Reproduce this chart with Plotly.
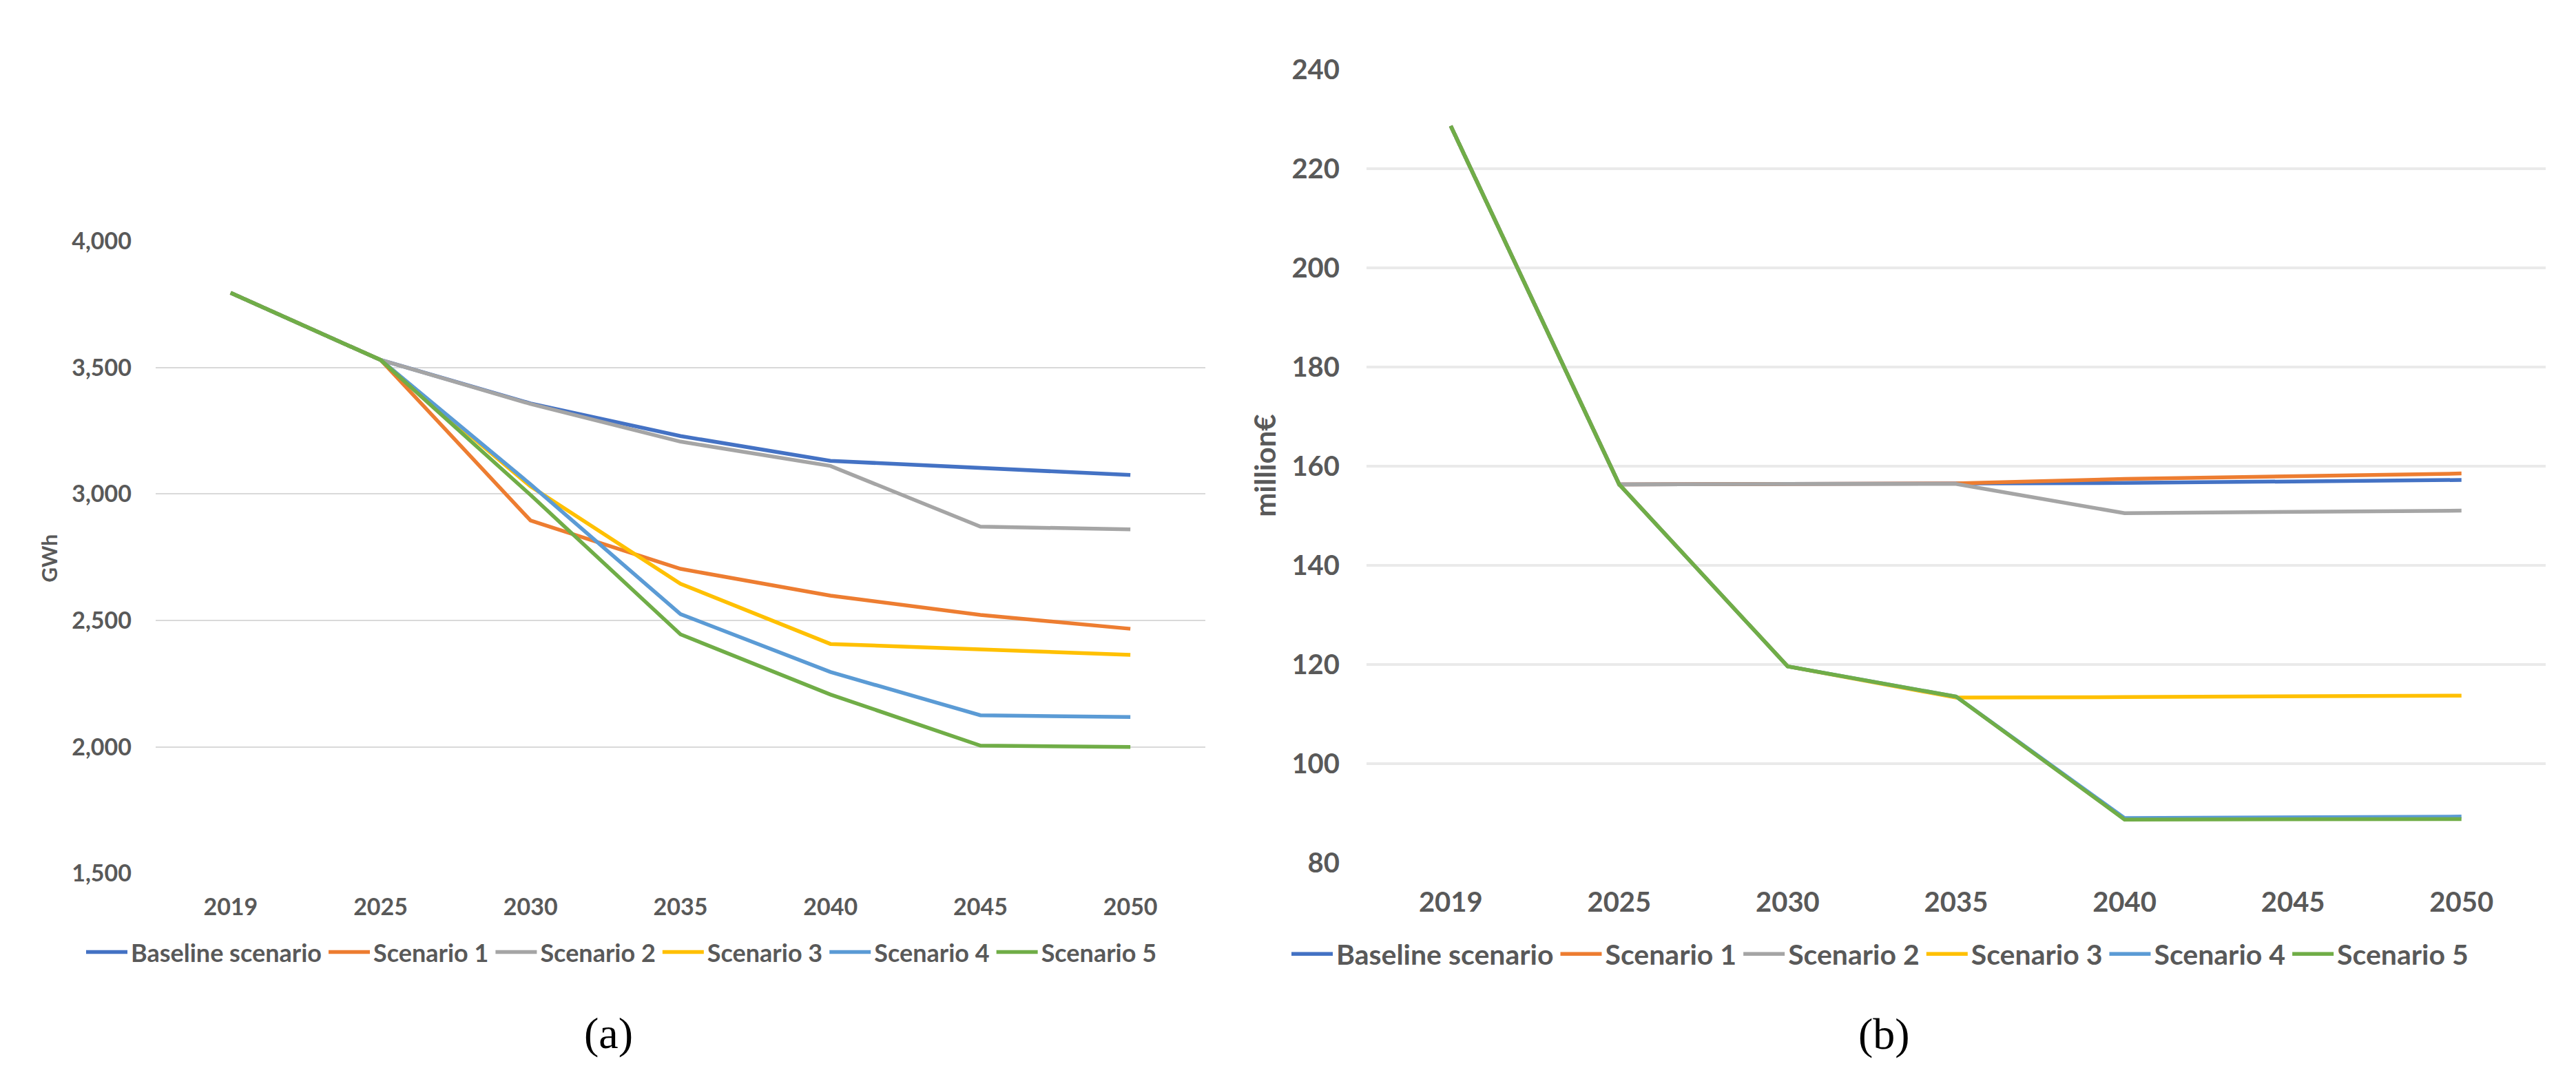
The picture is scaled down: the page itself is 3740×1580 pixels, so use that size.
import plotly.graph_objects as go

# ---------------- data ----------------
years = ["2019", "2025", "2030", "2035", "2040", "2045", "2050"]
series_names = ["Baseline scenario", "Scenario 1", "Scenario 2",
                "Scenario 3", "Scenario 4", "Scenario 5"]
series_colors = ["#4472C4", "#ED7D31", "#A5A5A5", "#FFC000", "#5B9BD5", "#70AD47"]

# (a) electricity, GWh
gwh_baseline = [3795, 3530, 3358, 3229, 3131, 3102, 3075]
gwh_s1 = [3795, 3530, 2895, 2704, 2598, 2522, 2467]
gwh_s2 = [3795, 3530, 3356, 3207, 3111, 2871, 2860]
gwh_s3 = [3795, 3530, 3030, 2645, 2407, 2387, 2364]
gwh_s4 = [3795, 3530, 3038, 2525, 2296, 2125, 2118]
gwh_s5 = [3795, 3530, 2996, 2445, 2207, 2005, 2000]

# (b) cost, million €
eur_baseline = [228.6, 156.3, 156.4, 156.5, 156.6, 156.9, 157.2]
eur_s1 = [228.6, 156.3, 156.4, 156.5, 157.4, 158.0, 158.5]
eur_s2 = [228.6, 156.3, 156.4, 156.4, 150.5, 150.8, 151.0]
eur_s3 = [228.6, 156.3, 119.6, 113.3, 113.4, 113.5, 113.7]
eur_s4 = [228.6, 156.3, 119.6, 113.5, 89.0, 89.1, 89.3]
eur_s5 = [228.6, 156.3, 119.6, 113.5, 88.7, 88.7, 88.8]

gwh_series = [gwh_baseline, gwh_s1, gwh_s2, gwh_s3, gwh_s4, gwh_s5]
eur_series = [eur_baseline, eur_s1, eur_s2, eur_s3, eur_s4, eur_s5]

# ---------------- figure ----------------
W, H = 3740, 1580
FONT = "Lato, 'Open Sans', sans-serif"
SERIF = "'Liberation Serif', 'DejaVu Serif', serif"
TXT = "#595959"

fig = go.Figure()

for name, color, vals in zip(series_names, series_colors, gwh_series):
    fig.add_trace(go.Scatter(
        x=years, y=vals, name=name, mode="lines",
        line=dict(color=color, width=5.5),
        xaxis="x", yaxis="y", legend="legend",
    ))

for name, color, vals in zip(series_names, series_colors, eur_series):
    fig.add_trace(go.Scatter(
        x=years, y=vals, name=name, mode="lines",
        line=dict(color=color, width=5.5),
        xaxis="x2", yaxis="y2", legend="legend2",
    ))

def px_x(px):
    return px / W

def px_y(py):
    return 1 - py / H

fig.update_layout(
    width=W, height=H,
    margin=dict(l=0, r=0, t=0, b=0),
    paper_bgcolor="white", plot_bgcolor="white",
    font=dict(family=FONT, color=TXT),
    xaxis=dict(
        domain=[px_x(218), px_x(1742)], anchor="y",
        type="category", range=[-0.5, 6.5],
        showgrid=False, zeroline=False, showline=False, ticks="",
        tickfont=dict(size=34, color=TXT, family=FONT, weight="bold"),
        ticklabelstandoff=26,
    ),
    yaxis=dict(
        domain=[px_y(1274), px_y(327)], anchor="x",
        range=[1500, 4000], dtick=500, tickformat=",d",
        showgrid=True, gridcolor="#D9D9D9", gridwidth=2,
        zeroline=False, showline=False, ticks="",
        tickfont=dict(size=34, color=TXT, family=FONT, weight="bold"),
        ticklabelstandoff=34,
    ),
    xaxis2=dict(
        domain=[px_x(1976), px_x(3688)], anchor="y2",
        type="category", range=[-0.5, 6.5],
        showgrid=False, zeroline=False, showline=False, ticks="",
        tickfont=dict(size=40, color=TXT, family=FONT, weight="bold"),
        ticklabelstandoff=30,
    ),
    yaxis2=dict(
        domain=[px_y(1258), px_y(70)], anchor="x2",
        range=[80, 240], dtick=20, tickformat="d",
        showgrid=True, gridcolor="#EAEAEA", gridwidth=4,
        zeroline=False, showline=False, ticks="",
        tickfont=dict(size=40, color=TXT, family=FONT, weight="bold"),
        ticklabelstandoff=38,
    ),
    legend=dict(
        orientation="h", x=px_x(112), y=px_y(1392),
        xanchor="left", yanchor="middle",
        font=dict(size=36, color=TXT, family=FONT, weight="bold"),
        itemwidth=60, bgcolor="rgba(0,0,0,0)", borderwidth=0,
    ),
    legend2=dict(
        orientation="h", x=px_x(1862), y=px_y(1395),
        xanchor="left", yanchor="middle",
        font=dict(size=41, color=TXT, family=FONT, weight="bold"),
        itemwidth=60, bgcolor="rgba(0,0,0,0)", borderwidth=0,
    ),
    showlegend=True,
    annotations=[
        dict(text="GWh", x=px_x(63), y=px_y(802), xref="paper", yref="paper",
             showarrow=False, textangle=-90, xanchor="center", yanchor="middle",
             font=dict(size=30, color=TXT, family=FONT, weight="bold")),
        dict(text="million€", x=px_x(1828), y=px_y(663), xref="paper", yref="paper",
             showarrow=False, textangle=-90, xanchor="center", yanchor="middle",
             font=dict(size=42, color=TXT, family=FONT, weight="bold")),
        dict(text="(a)", x=px_x(875), y=px_y(1513), xref="paper", yref="paper",
             showarrow=False, xanchor="center", yanchor="middle",
             font=dict(size=64, color="black", family=SERIF)),
        dict(text="(b)", x=px_x(2727), y=px_y(1515), xref="paper", yref="paper",
             showarrow=False, xanchor="center", yanchor="middle",
             font=dict(size=64, color="black", family=SERIF)),
    ],
)

fig.write_html("out.html")
